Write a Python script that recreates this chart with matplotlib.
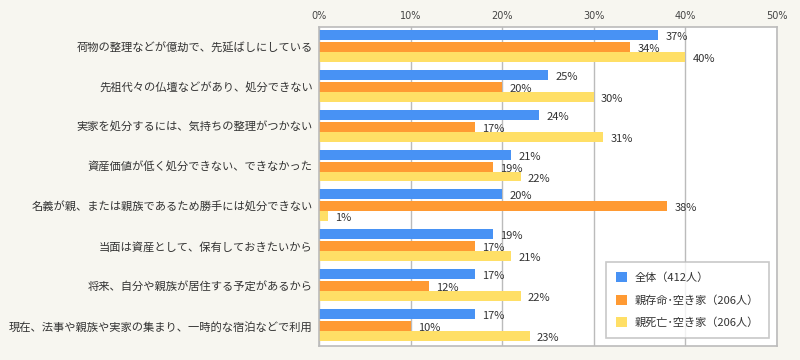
import matplotlib
matplotlib.use("Agg")
import matplotlib.pyplot as plt
import numpy as np

plt.rcParams['font.family'] = ['Noto Sans CJK JP', 'DejaVu Sans']

categories = [
    "荷物の整理などが億劫で、先延ばしにしている",
    "先祖代々の仏壇などがあり、処分できない",
    "実家を処分するには、気持ちの整理がつかない",
    "資産価値が低く処分できない、できなかった",
    "名義が親、または親族であるため勝手には処分できない",
    "当面は資産として、保有しておきたいから",
    "将来、自分や親族が居住する予定があるから",
    "現在、法事や親族や実家の集まり、一時的な宿泊などで利用",
]
series_names = ["全体（412人）", "親存命･空き家（206人）", "親死亡･空き家（206人）"]
total = [37, 25, 24, 21, 20, 19, 17, 17]
alive = [34, 20, 17, 19, 38, 17, 12, 10]
dead = [40, 30, 31, 22, 1, 21, 22, 23]
xticks = [0, 10, 20, 30, 40, 50]

colors = ["#4892f4", "#ff9a33", "#ffdf66"]
offsets = [-0.3, 0.0, 0.25]
height = 0.25

fig = plt.figure(figsize=(8, 3.6), dpi=100)
fig.patch.set_facecolor("#f7f6f0")
ax = fig.add_axes([0.39875, 0.039, 0.5725, 0.886])
ax.set_facecolor("white")

y = np.arange(len(categories))
for vals, col, off, name in zip([total, alive, dead], colors, offsets, series_names):
    ax.barh(y + off, vals, height=height, color=col, label=name, zorder=2)
    for yi, v in zip(y, vals):
        ax.text(v + 0.8, yi + off + 0.05, f"{v}%", va="center", ha="left",
                fontsize=8, color="#333333", zorder=3)

ax.set_xlim(0, 50)
ax.set_ylim(len(categories) - 0.5, -0.5)
ax.set_xticks(xticks)
ax.set_xticklabels([f"{t}%" for t in xticks], fontsize=7, color="#444444",
                   family=['DejaVu Sans'])
ax.xaxis.tick_top()
ax.tick_params(axis='x', length=0, pad=4)
ax.grid(axis='x', color="#bbbbbb", linewidth=1, zorder=1)
ax.set_yticks(y)
ax.set_yticklabels(categories, fontsize=8.1, color="#333333")
ax.tick_params(axis='y', length=0, pad=4.5)
for s in ax.spines.values():
    s.set_color("#bbbbbb")
    s.set_linewidth(1.2)

leg = ax.legend(loc="lower right", bbox_to_anchor=(0.982, 0.025), fontsize=8,
                frameon=True, fancybox=False, edgecolor="#bbbbbb",
                handlelength=1.0, handleheight=1.0, borderpad=0.9,
                labelspacing=1.05, handletextpad=0.7, borderaxespad=0)
leg.get_frame().set_linewidth(1.2)
for t in leg.get_texts():
    t.set_color("#333333")

fig.savefig("out.png", dpi=100, facecolor=fig.get_facecolor())
